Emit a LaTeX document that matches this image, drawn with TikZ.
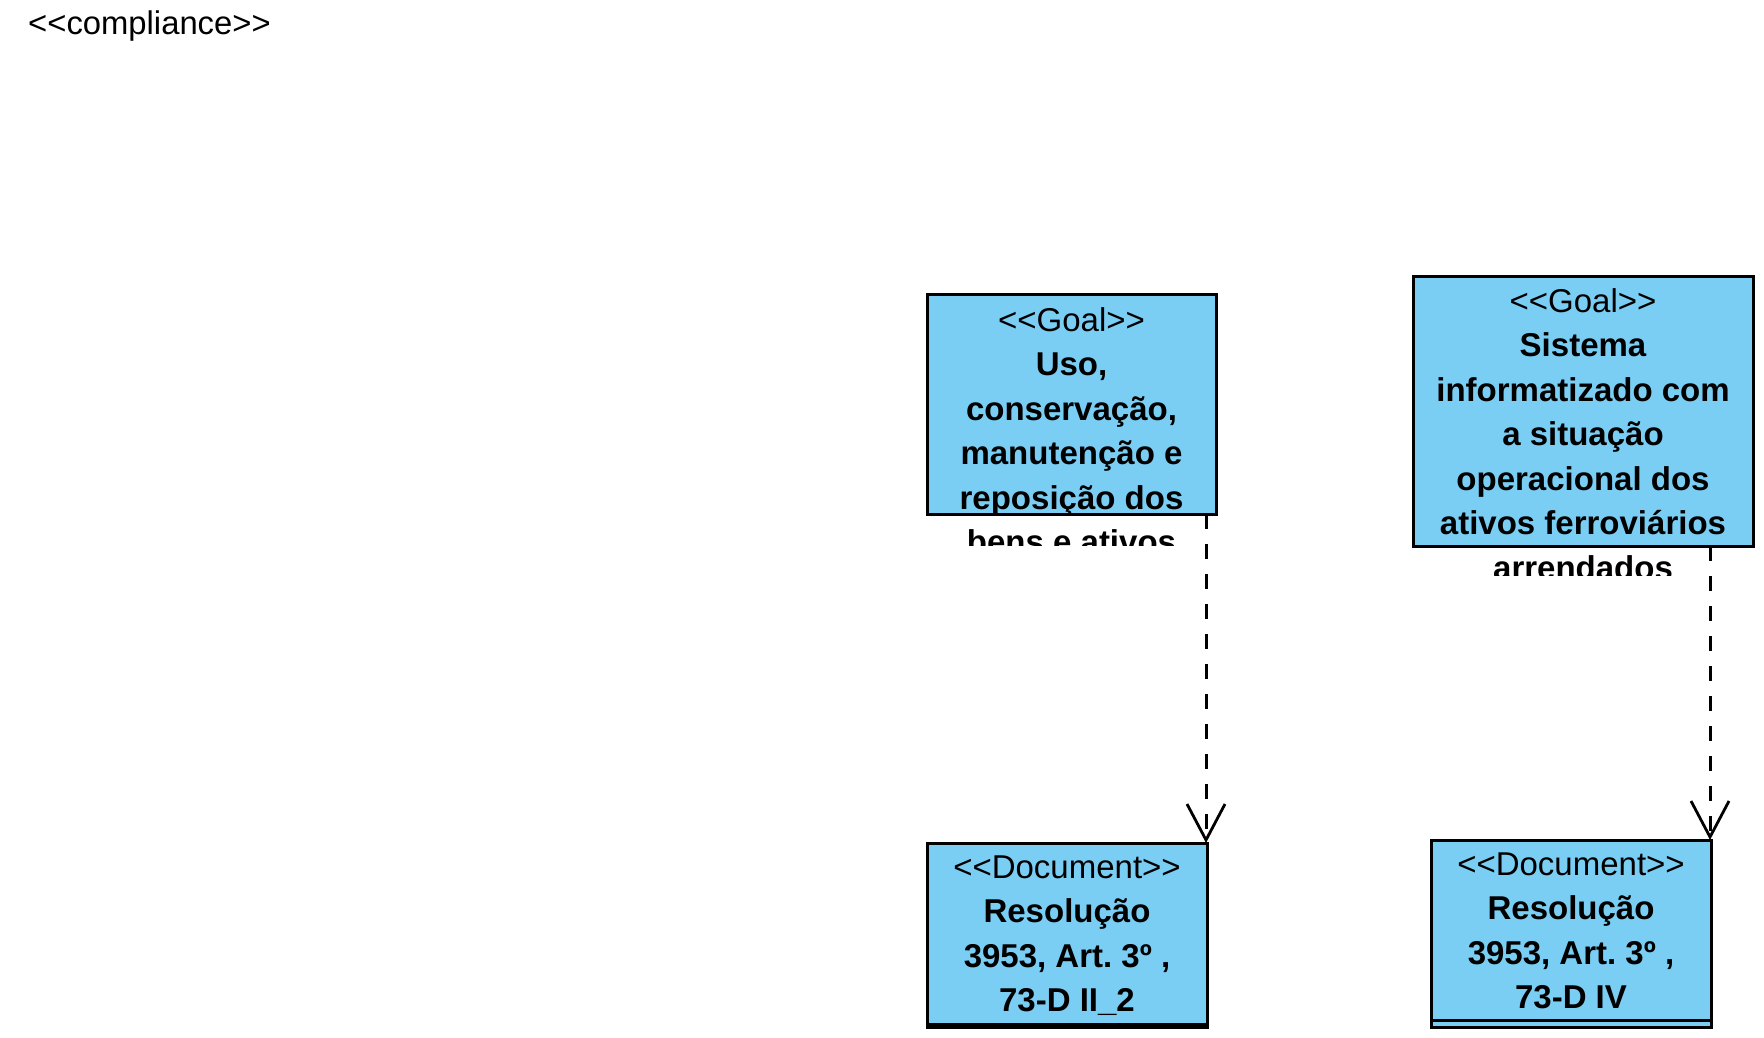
\documentclass[tikz,border=0pt]{standalone}
\usepackage{fontspec}
\setmainfont{Liberation Sans}
\usetikzlibrary{arrows.meta}
\definecolor{boxblue}{RGB}{122,206,244}
\newcommand{\stl}{<\kern0pt<}
\newcommand{\stg}{>\kern0pt>}
\frenchspacing
\begin{document}
\begin{tikzpicture}[x=1pt,y=-1pt,
  umlbox/.style={draw=black, fill=boxblue, line width=3pt, inner sep=0pt, outer sep=0pt, anchor=north west},
  boxtext/.style={anchor=north, inner sep=0pt, outer sep=0pt, align=center, font=\fontsize{33}{44.5}\selectfont\frenchspacing},
  dep/.style={line width=3pt, dash pattern=on 15pt off 15pt, -{Straight Barb[length=36pt,width=38pt,line width=2.8pt]}}
]
\fill[white] (0,0) rectangle (1764,1038);
\useasboundingbox (0,0) rectangle (1764,1038);

\node[anchor=base west, inner sep=0pt, font=\fontsize{32.8}{38}\selectfont] (title) at (28,35) {\stl compliance\stg};

% Goal boxes
\node[umlbox, minimum width=289pt, minimum height=220pt] (g1) at (927,294) {};
\node[umlbox, minimum width=340pt, minimum height=270pt] (g2) at (1413,276) {};

% Document boxes
\node[umlbox, minimum width=280pt, minimum height=184pt] (d1) at (927,843) {};
\node[umlbox, minimum width=280pt, minimum height=187pt] (d2) at (1431,840) {};
\draw[line width=3pt] (d1.south west) ++(0,-2.5) -- ++(280,0);
\draw[line width=3pt] (d2.south west) ++(0,-6.5) -- ++(280,0);

% texts (clipped)
\begin{scope}
  \clip (900,280) rectangle (1240,545);
  \node[boxtext] (g1t) at (1071.5,299.85) {\strut\stl Goal\stg\\
    \bfseries Uso,\\ \bfseries conservação,\\ \bfseries manutenção e\\
    \bfseries reposição dos\\ \bfseries bens e ativos};
\end{scope}
\begin{scope}
  \clip (1400,260) rectangle (1764,575);
  \node[boxtext] (g2t) at (1583,280.85) {\strut\stl Goal\stg\\
    \bfseries Sistema\\ \bfseries informatizado com\\ \bfseries a situação\\
    \bfseries operacional dos\\ \bfseries ativos ferroviários\\ \bfseries arrendados};
\end{scope}
\node[boxtext] (d1t) at (1067,846.85) {\strut\stl Document\stg\\
  \bfseries Resolução\\ \bfseries 3953, Art. 3º ,\\ \bfseries 73-D II\_2};
\node[boxtext] (d2t) at (1571,843.85) {\strut\stl Document\stg\\
  \bfseries Resolução\\ \bfseries 3953, Art. 3º ,\\ \bfseries 73-D IV};

% dependencies
\draw[dep] (g1.south -| d1.north east) ++(-1,0) coordinate (a1s) -- (a1s |- d1.north);
\draw[dep] (g2.south -| d2.north east) ++(-1,0) coordinate (a2s) -- (a2s |- d2.north);
\end{tikzpicture}
\end{document}
